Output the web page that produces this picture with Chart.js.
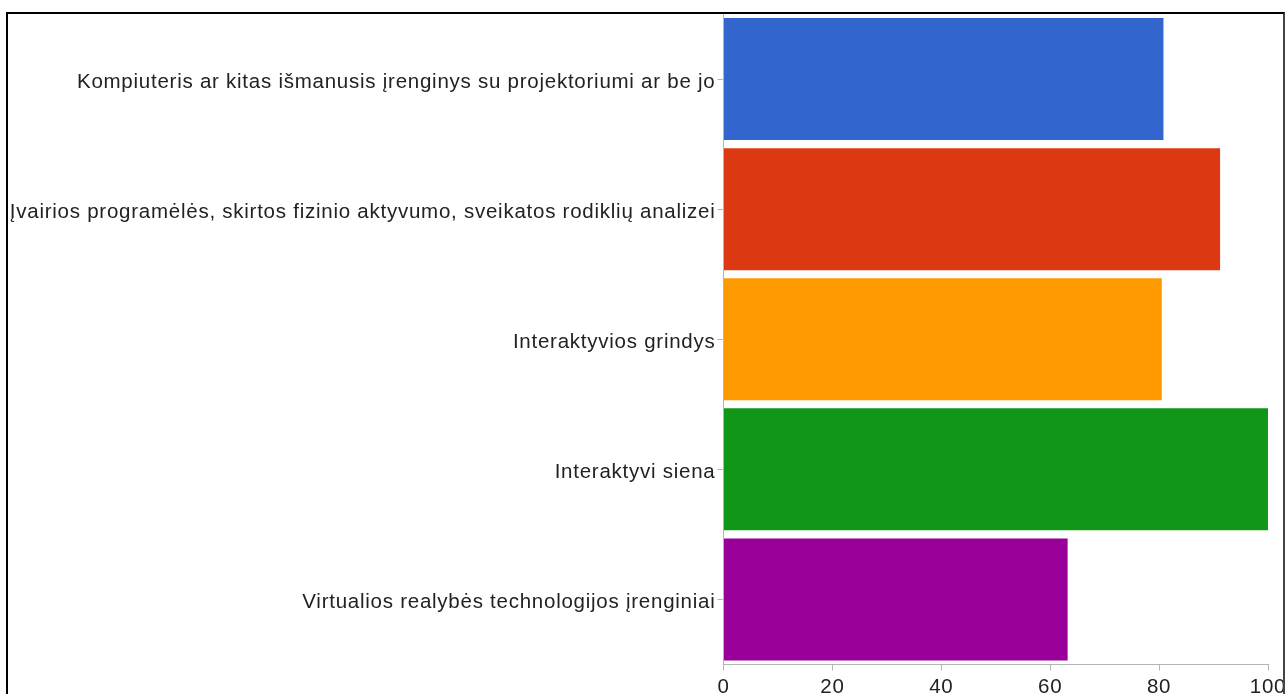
<!DOCTYPE html>
<html lang="lt">
<head>
    <meta charset="UTF-8">
    <title>Technologijos</title>
    <style>
        html, body { margin: 0; padding: 0; background: #fff; overflow: hidden; }
        .frame {
            position: absolute;
            left: 6px;
            top: 12px;
            width: 1275px;
            height: 700px;
            border-left: 2px solid #000;
            border-top: 2px solid #000;
            border-right: 2px solid #444;
            overflow: hidden;
        }
        .chart-box { position: absolute; left: 0; top: 0; width: 1275px; height: 700px; }
    </style>
</head>
<body>
    <div class="frame">
        <div class="chart-box">
            <canvas id="barChart"></canvas>
        </div>
    </div>

    <script src="https://cdn.jsdelivr.net/npm/chart.js@4.4.1/dist/chart.umd.min.js"></script>
    <script>
        // data
        var categories = [
            'Kompiuteris ar kitas išmanusis įrenginys su projektoriumi ar be jo',
            'Įvairios programėlės, skirtos fizinio aktyvumo, sveikatos rodiklių analizei',
            'Interaktyvios grindys',
            'Interaktyvi siena',
            'Virtualios realybės technologijos įrenginiai'
        ];
        var values = [80.8, 91.2, 80.5, 100, 63.2];
        var barColors = ['#3366cc', '#dc3912', '#ff9900', '#109618', '#990099'];
        var xTicks = [0, 20, 40, 60, 80, 100];

        var labelFont = { family: "'Liberation Sans', Arial, sans-serif", size: 20.5 };

        // the original text is a bit wider than Liberation Sans, add a little spacing
        var spacingPlugin = {
            id: 'letterSpacing',
            beforeUpdate: function (chart) { chart.ctx.letterSpacing = '0.75px'; },
            beforeDraw: function (chart) { chart.ctx.letterSpacing = '0.75px'; }
        };

        var ctx = document.getElementById('barChart').getContext('2d');
        var myChart = new Chart(ctx, {
            type: 'bar',
            data: {
                labels: categories,
                datasets: [{
                    data: values,
                    backgroundColor: barColors,
                    borderWidth: 0,
                    barPercentage: 0.938,
                    categoryPercentage: 1
                }]
            },
            plugins: [spacingPlugin],
            options: {
                indexAxis: 'y',
                responsive: true,
                maintainAspectRatio: false,
                animation: false,
                layout: { padding: { left: 0, top: 0, right: 15, bottom: 0 } },
                plugins: {
                    legend: { display: false },
                    tooltip: { enabled: false }
                },
                scales: {
                    y: {
                        grid: {
                            offset: false,
                            drawOnChartArea: false,
                            drawTicks: true,
                            tickLength: 6,
                            color: '#b5b5b5'
                        },
                        border: { color: '#b5b5b5', width: 1 },
                        ticks: { color: '#222', font: labelFont, padding: 2, labelOffset: 3 },
                        afterFit: function (scale) {
                            scale.width = 715.5;
                            scale.paddingTop = 0;
                            scale.paddingBottom = 0;
                        }
                    },
                    x: {
                        min: 0,
                        max: 100,
                        afterBuildTicks: function (scale) {
                            scale.ticks = xTicks.map(function (v) { return { value: v }; });
                        },
                        grid: {
                            drawOnChartArea: false,
                            drawTicks: true,
                            tickLength: 6,
                            color: '#b5b5b5'
                        },
                        border: { color: '#b5b5b5', width: 1 },
                        ticks: { color: '#222', font: labelFont, padding: 5, maxRotation: 0 },
                        afterFit: function (scale) {
                            scale.height = 49.5;
                            scale.paddingLeft = 0;
                            scale.paddingRight = 0;
                        }
                    }
                }
            }
        });
    </script>
</body>
</html>
